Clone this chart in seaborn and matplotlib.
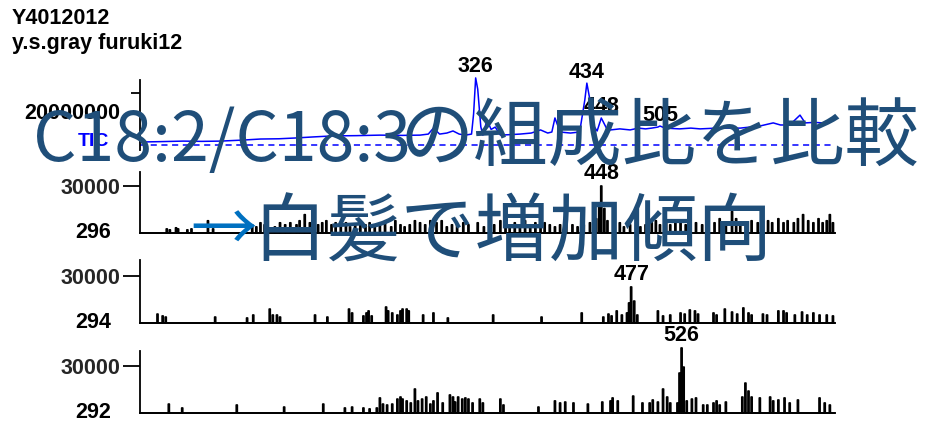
import numpy as np
import pandas as pd
import matplotlib
matplotlib.use("Agg")
import matplotlib.pyplot as plt
import seaborn as sns

# ---------------- data ----------------
N_SCANS = 675

# total ion current (scan, counts)
tic_scan = [0, 20, 42, 60, 78, 100, 117, 135, 151, 168, 187, 210, 233, 255, 272,
            280, 285, 291, 298, 304, 310, 316, 322, 324, 326, 328, 331, 333, 337, 341,
            345, 350, 360, 369, 380, 389, 396, 400, 403, 408, 418, 427, 432, 434, 437,
            440, 444, 448, 453, 457, 466, 476, 484, 491, 497, 503, 505, 510, 524, 535,
            544, 560, 583, 602, 615, 622, 631, 641, 646, 655, 663]
tic_counts = [1.15e6, 1.3e6, 1.5e6, 1.4e6, 1.5e6, 1.9e6, 2.3e6, 2.4e6, 2.7e6, 3.1e6,
              3.5e6, 3.6e6, 3.8e6, 3.7e6, 3.8e6, 4.2e6, 6.5e6, 4.2e6, 4.6e6, 5.4e6,
              4.2e6, 3.8e6, 4.2e6, 12.0e6, 25.8e6, 21.5e6, 7.0e6, 3.8e6, 9.6e6, 6.0e6,
              6.9e6, 3.8e6, 4.0e6, 4.2e6, 4.6e6, 5.8e6, 4.6e6, 5.0e6, 10.4e6, 5.0e6,
              4.6e6, 5.0e6, 17.3e6, 23.8e6, 17.3e6, 7.7e6, 5.4e6, 10.4e6, 6.5e6, 5.8e6,
              6.2e6, 5.8e6, 6.5e6, 6.2e6, 6.5e6, 6.9e6, 7.3e6, 6.5e6, 6.2e6, 6.5e6,
              6.2e6, 6.5e6, 6.5e6, 7.3e6, 8.5e6, 7.7e6, 7.7e6, 11.5e6, 8.5e6, 8.7e6,
              8.5e6]
tic_peaks = [326, 434, 448, 505]

# extracted ion chromatogram m/z 296
mz296_scan = [26, 29, 35, 37, 46, 50, 66, 71, 109, 113, 117, 121, 124, 131, 136,
              141, 146, 152, 155, 160, 165, 168, 173, 177, 181, 186, 190, 195, 200, 204,
              209, 214, 219, 223, 228, 233, 238, 244, 248, 253, 257, 262, 267, 272, 277,
              282, 288, 293, 298, 303, 308, 314, 319, 328, 334, 340, 344, 350, 355, 359,
              364, 369, 374, 379, 384, 389, 393, 398, 403, 408, 414, 420, 425, 431, 437,
              443, 446, 448, 451, 454, 460, 466, 470, 476, 482, 486, 491, 497, 501, 505,
              511, 515, 520, 525, 530, 534, 540, 546, 552, 558, 563, 569, 575, 579, 583,
              589, 594, 600, 604, 610, 614, 620, 625, 629, 635, 639, 644, 649, 654, 659,
              663, 667, 670, 673]
mz296_counts = [2600, 2000, 3300, 2600, 2000, 2600, 7800, 2600, 5200, 3900, 6500, 5200, 7800, 3900, 6500,
                5200, 6500, 5200, 7800, 11700, 6500, 9100, 5200, 6500, 7800, 5200, 6500, 5200, 6500, 3900,
                5200, 6500, 5200, 6500, 3900, 5200, 6500, 3900, 7800, 5200, 3900, 5200, 7800, 6500, 5200,
                7800, 6500, 7800, 3900, 5200, 5200, 6500, 5200, 6500, 3900, 6500, 5200, 7800, 6500, 3900,
                6500, 5200, 7800, 5200, 6500, 7800, 6500, 5200, 3900, 5200, 6500, 5200, 3900, 5200, 6500,
                9100, 17000, 30000, 15600, 7800, 5200, 6500, 3900, 5200, 6500, 3900, 5200, 6500, 7800, 5200,
                6500, 5200, 6500, 7800, 5200, 7800, 6500, 5200, 7800, 6500, 9100, 6500, 13700, 9100, 6500,
                5200, 7800, 6500, 5200, 7800, 6500, 9100, 6500, 7800, 6500, 9100, 11700, 7800, 6500, 9100,
                6500, 7800, 11700, 6500]
mz296_peaks = [448]

# extracted ion chromatogram m/z 294
mz294_scan = [17, 22, 25, 73, 104, 110, 126, 129, 133, 136, 170, 182, 203, 206, 217,
              220, 222, 225, 239, 241, 245, 250, 253, 255, 259, 261, 275, 285, 299, 343,
              390, 429, 450, 455, 458, 463, 468, 473, 475, 477, 480, 483, 503, 508, 515,
              525, 529, 534, 539, 542, 557, 560, 568, 575, 580, 586, 591, 594, 605, 609,
              620, 625, 628, 636, 643, 648, 654, 660, 667, 673]
mz294_counts = [5700, 4500, 3800, 3800, 3200, 5100, 8900, 5100, 5100, 3800, 5100, 3800, 8900, 6400, 4500,
                6400, 7700, 4500, 10200, 7700, 6400, 5100, 7700, 8900, 8900, 7700, 5100, 6400, 3200, 5100,
                3800, 6400, 3800, 5700, 4500, 7700, 5100, 6400, 12800, 23000, 14000, 5100, 7700, 4500, 5100,
                6400, 5700, 8300, 7700, 5700, 6400, 5100, 8900, 7000, 5700, 9600, 6400, 5100, 5700, 5100,
                7700, 7700, 6400, 5100, 7000, 5100, 6400, 5100, 5100, 4500]
mz294_peaks = [477]

# extracted ion chromatogram m/z 292
mz292_scan = [28, 41, 94, 140, 178, 199, 206, 217, 223, 230, 233, 236, 240, 245, 250,
              253, 255, 259, 263, 267, 270, 274, 278, 282, 285, 289, 294, 301, 304, 306,
              309, 313, 316, 319, 323, 330, 333, 350, 353, 387, 403, 408, 413, 421, 435,
              449, 457, 459, 464, 479, 488, 495, 498, 503, 508, 512, 515, 522, 524, 526,
              528, 531, 536, 540, 547, 551, 557, 560, 563, 569, 585, 588, 591, 594, 602,
              612, 615, 620, 626, 631, 639, 660, 665, 670]
mz292_counts = [5700, 3200, 5100, 3800, 5700, 3200, 3800, 3200, 2600, 3200, 9600, 5700, 5100, 5700, 8900,
                10200, 8900, 7700, 6400, 15300, 7700, 8900, 10200, 5700, 7700, 12800, 6400, 11500, 10200, 7000,
                10200, 8900, 9600, 8900, 6400, 8900, 6400, 8900, 5100, 3800, 7700, 6400, 7000, 6400, 5700,
                7000, 7700, 9600, 7700, 10800, 6400, 6400, 8300, 7000, 15300, 10200, 6400, 6400, 25500, 41500,
                29300, 7700, 8900, 9600, 5100, 5100, 6400, 7700, 5100, 7000, 10200, 19100, 14000, 10200, 9600,
                10200, 7700, 8300, 9600, 6400, 8300, 9600, 6400, 5100]
mz292_peaks = [526]

header_lines = ["Y4012012", "y.s.gray furuki12"]
tic_tick = 20000000
ion_tick = 30000
title_ratio = "C18:2/C18:3"
title_line1 = "の組成比を比較"
title_arrow = "→"
title_line2 = "白髪で増加傾向"

# ---------------- style ----------------
sns.set_theme(style="white")
plt.rcParams["font.family"] = ["Noto Sans CJK JP", "DejaVu Sans"]

W, H = 926, 425
fig = plt.figure(figsize=(W / 100, H / 100), dpi=100)
fig.patch.set_facecolor("white")

NUM_FONT = dict(family=["Liberation Sans", "DejaVu Sans"], fontweight="bold", fontsize=15.5)
CJK = ["Noto Sans CJK JP", "DejaVu Sans"]
TRACE_BLUE = "#0000FF"
TITLE_BLUE = "#1F4E79"
ARROW_BLUE = "#0070C0"


def px_axes(left, top, right, bottom):
    return fig.add_axes([left / W, 1 - bottom / H, (right - left) / W, (bottom - top) / H])


def style_axes(ax, ylim, tick, tick_len, bottom_spine=True):
    ax.set_facecolor("none")
    ax.set_xlim(0, N_SCANS)
    ax.set_ylim(*ylim)
    ax.set_xticks([])
    ax.set_xlabel("")
    ax.set_ylabel("")
    for side in ("top", "right"):
        ax.spines[side].set_visible(False)
    ax.spines["left"].set_color("black")
    ax.spines["left"].set_linewidth(1.3)
    ax.spines["bottom"].set_visible(bottom_spine)
    ax.spines["bottom"].set_color("black")
    ax.spines["bottom"].set_linewidth(1.3)
    ax.set_yticks([tick])
    ax.tick_params(axis="y", which="major", left=True, length=tick_len * 0.72,
                   width=1.3, color="black", pad=2)


def peak_labels(ax, xs, ys, peaks, color="black", dy=11):
    for p in peaks:
        top = float(np.interp(p, xs, ys))
        ax.annotate(str(p), xy=(p, top), xytext=(0, dy), textcoords="offset pixels",
                    ha="center", va="center", color=color, annotation_clip=False,
                    **NUM_FONT)


# ---------------- TIC panel ----------------
ax_tic = px_axes(140, 80, 835, 150)
tic_df = pd.DataFrame({"scan": tic_scan, "counts": tic_counts})
sns.lineplot(data=tic_df, x="scan", y="counts", ax=ax_tic, color=TRACE_BLUE,
             lw=1.1, estimator=None, sort=False, clip_on=False)
ax_tic.axhline(0, xmin=0, xmax=1, color=TRACE_BLUE, lw=1.1, ls=(0, (4, 3)))
style_axes(ax_tic, (-1.92e6, 25.0e6), tic_tick, 9, bottom_spine=False)
ax_tic.set_yticklabels([""])
ax_tic.annotate(str(tic_tick), xy=(0, tic_tick), xycoords=("axes fraction", "data"),
                xytext=(-20, -20), textcoords="offset pixels", ha="right", va="center",
                color="black", **NUM_FONT)
ax_tic.annotate("TIC", xy=(0, 0), xycoords=("axes fraction", "data"),
                xytext=(-47, 4), textcoords="offset pixels", ha="center", va="center",
                color=TRACE_BLUE, **{**NUM_FONT, "fontsize": 14})
peak_labels(ax_tic, tic_scan, tic_counts, tic_peaks)

# ---------------- extracted ion panels ----------------
ion_panels = [
    ("296", mz296_scan, mz296_counts, mz296_peaks, (172, 233)),
    ("294", mz294_scan, mz294_counts, mz294_peaks, (260, 323)),
    ("292", mz292_scan, mz292_counts, mz292_peaks, (351, 413)),
]

for mass, scans, counts, peaks, (top, bottom) in ion_panels:
    ax = px_axes(140, top, 835, bottom)
    grid = np.arange(0, N_SCANS + 1)
    profile = np.zeros(grid.size)
    for s, c in zip(scans, counts):
        profile[s] = max(profile[s], c)
    df = pd.DataFrame({"scan": grid, "counts": profile})
    sns.lineplot(data=df, x="scan", y="counts", ax=ax, color="black", lw=1.25,
                 estimator=None, sort=False, drawstyle="steps-mid", clip_on=False)
    span = bottom - top
    style_axes(ax, (0, ion_tick * span / 47.0), ion_tick, 17)
    ax.set_yticklabels([str(ion_tick)], **NUM_FONT)
    ax.annotate(mass, xy=(0, 0), xycoords=("axes fraction", "data"),
                xytext=(-47, 0), textcoords="offset pixels", ha="center", va="center",
                color="black", **NUM_FONT)
    peak_labels(ax, grid, profile, peaks, dy=12)

# ---------------- header ----------------
for text, y in zip(header_lines, (18, 44)):
    fig.text(12 / W, 1 - y / H, text, ha="left", va="center", color="black", **NUM_FONT)

# ---------------- overlay caption ----------------
fig.text(33 / W, 1 - 161 / H, title_ratio, ha="left", va="baseline",
         fontsize=49, color=TITLE_BLUE, family=CJK)
fig.text(400 / W, 1 - 160 / H, title_line1, ha="left", va="baseline",
         fontsize=53.5, color=TITLE_BLUE, family=CJK)
fig.text(190 / W, 1 - 252 / H, title_arrow, ha="left", va="baseline",
         fontsize=48, color=ARROW_BLUE, family=CJK)
fig.text(252 / W, 1 - 256 / H, title_line2, ha="left", va="baseline",
         fontsize=53.5, color=TITLE_BLUE, family=CJK)

fig.savefig("out.png", dpi=100, facecolor="white")
